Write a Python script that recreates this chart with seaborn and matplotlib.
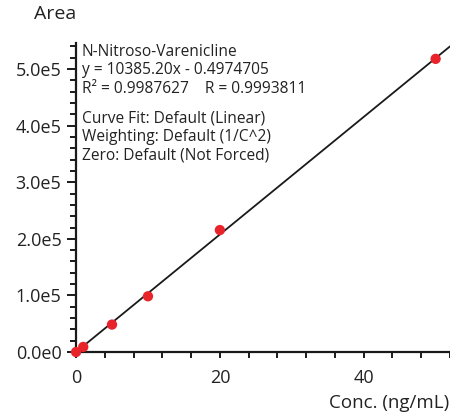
import numpy as np
import pandas as pd
import matplotlib
matplotlib.use("Agg")
import matplotlib.pyplot as plt
from matplotlib.ticker import MultipleLocator, FuncFormatter
import seaborn as sns

# ---- data ----
conc = [0, 1, 5, 10, 20, 50]
area = [0, 9000, 48500, 98500, 215500, 518000]
slope = 10385.20
intercept = -0.4974705
fit_x_range = [0, 52]
title_lines = ["N-Nitroso-Varenicline",
               "y = 10385.20x - 0.4974705",
               "R\u00b2 = 0.9987627    R = 0.9993811"]
info_lines = ["Curve Fit: Default (Linear)",
              "Weighting: Default (1/C^2)",
              "Zero: Default (Not Forced)"]

sns.set_style("white")
plt.rcParams['font.family'] = ['Open Sans', 'DejaVu Sans']

fig = plt.figure(figsize=(4.5, 4.12), dpi=100)
ax = fig.add_axes([0.169, 0.1456, 0.831, 0.75])

df = pd.DataFrame({"conc": conc, "area": area})
fx = np.array(fit_x_range, dtype=float)
fit_df = pd.DataFrame({"x": fx, "y": slope * fx + intercept})
sns.lineplot(data=fit_df, x="x", y="y", ax=ax, color="#1a1a1a", linewidth=1.3)
sns.scatterplot(data=df, x="conc", y="area", ax=ax, color="#e8232a", s=55,
                edgecolor="none", clip_on=False, zorder=5)

ax.set_xlim(0, 52)
ax.set_ylim(0, 5.46e5)
for s in ["top", "right"]:
    ax.spines[s].set_visible(False)
for s in ["left", "bottom"]:
    ax.spines[s].set_linewidth(1.6)
    ax.spines[s].set_color("#1a1a1a")


def sci_fmt(v, p):
    if v == 0:
        return "0.0e0"
    e = int(np.floor(np.log10(abs(v))))
    return "%.1fe%d" % (v / 10 ** e, e)


ax.xaxis.set_major_locator(MultipleLocator(20))
ax.xaxis.set_minor_locator(MultipleLocator(4))
ax.yaxis.set_major_locator(MultipleLocator(1e5))
ax.yaxis.set_minor_locator(MultipleLocator(2e4))
ax.yaxis.set_major_formatter(FuncFormatter(sci_fmt))
ax.tick_params(axis="x", which="both", direction="out", length=4, width=1.4,
               color="#1a1a1a", labelsize=13, pad=8, labelcolor="#222222", bottom=True)
ax.tick_params(axis="y", which="major", direction="out", length=6.5, width=1.4,
               color="#1a1a1a", labelsize=13, pad=4, labelcolor="#222222", left=True)
ax.tick_params(axis="y", which="minor", direction="out", length=4, width=1.4,
               color="#1a1a1a", left=True)
ax.set_xlabel("")
ax.set_ylabel("")

fig.text(0.076, 0.955, "Area", fontsize=14, color="#222222", va="baseline", ha="left")
fig.text(0.732, 0.01, "Conc. (ng/mL)", fontsize=13.5, color="#222222", va="baseline", ha="left")

ys1 = [0.8648, 0.8204, 0.775]
for t, yy in zip(title_lines, ys1):
    fig.text(0.182, yy, t, fontsize=11.2, color="#222222", va="baseline", ha="left")
ys2 = [0.7032, 0.6578, 0.6133]
for t, yy in zip(info_lines, ys2):
    fig.text(0.182, yy, t, fontsize=11.2, color="#222222", va="baseline", ha="left")

fig.savefig("out.png", dpi=100)
